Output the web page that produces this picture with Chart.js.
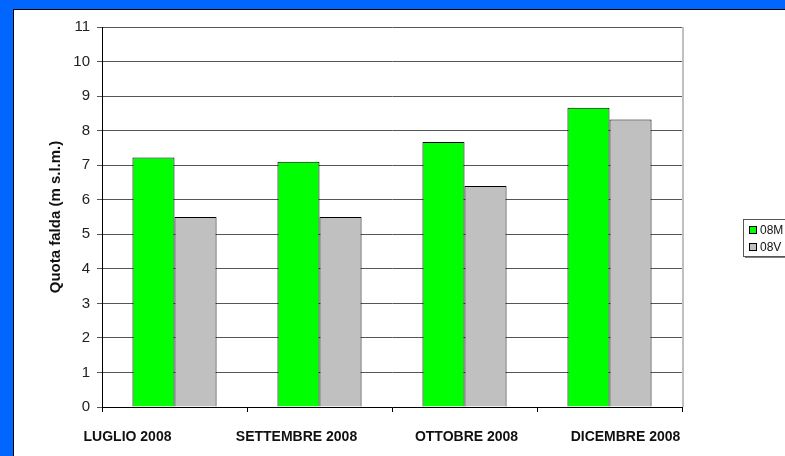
<!DOCTYPE html>
<html>
<head>
<meta charset="utf-8">
<script src="https://cdn.jsdelivr.net/npm/chart.js@4.4.0/dist/chart.umd.min.js"></script>
<style>
  html, body { margin: 0; padding: 0; background: #fff; overflow: hidden; }
  #wrap { position: relative; width: 785px; height: 456px; }
</style>
</head>
<body>
<div id="wrap"><canvas id="chart" width="785" height="456"></canvas></div>
<script>
// data
const categories = ["LUGLIO 2008", "SETTEMBRE 2008", "OTTOBRE 2008", "DICEMBRE 2008"];
const seriesNames = ["08M", "08V"];
const values08M = [7.22, 7.1, 7.67, 8.66];
const values08V = [5.5, 5.5, 6.4, 8.32];
const yMin = 0, yMax = 11, yStep = 1;

// the category labels sit a bit off-centre in the original
const labelShift = [-47, -23, 2, 16];

const FONT = "'Liberation Sans', Arial, sans-serif";

const framePlugin = {
  id: "frame",
  beforeDraw(chart) {
    const ctx = chart.ctx;
    ctx.save();
    ctx.fillStyle = "#0066ff";
    ctx.fillRect(0, 0, chart.width, chart.height);
    ctx.fillStyle = "#000";
    ctx.fillRect(13, 9, chart.width, chart.height);
    ctx.fillStyle = "#fff";
    ctx.fillRect(14, 10, chart.width, chart.height);
    ctx.restore();
  },
  afterDraw(chart) {
    const ctx = chart.ctx;
    const area = chart.chartArea;
    const xs = chart.scales.x;
    ctx.save();
    // plot area right border
    ctx.strokeStyle = "#c0c0c0";
    ctx.lineWidth = 2;
    ctx.beginPath();
    ctx.moveTo(area.right + 1, area.top);
    ctx.lineTo(area.right + 1, area.bottom);
    ctx.stroke();

    // category labels
    ctx.fillStyle = "#111";
    ctx.font = "bold 14px " + FONT;
    ctx.textAlign = "center";
    ctx.textBaseline = "middle";
    categories.forEach((c, i) => {
      ctx.fillText(c, xs.getPixelForValue(i) + labelShift[i], area.bottom + 30);
    });

    // legend box (cut by the right edge like the original)
    const lx = 743, ly = 219, lh = 37;
    ctx.fillStyle = "#808080";
    ctx.fillRect(lx + 2, ly + 2, 100, lh);
    ctx.fillStyle = "#fff";
    ctx.fillRect(lx, ly, 100, lh);
    ctx.strokeStyle = "#555";
    ctx.lineWidth = 1;
    ctx.strokeRect(lx + 0.5, ly + 0.5, 100, lh);
    ctx.font = "12px " + FONT;
    ctx.textAlign = "left";
    chart.data.datasets.forEach((ds, i) => {
      const cy = ly + 11 + i * 17;
      ctx.fillStyle = ds.backgroundColor;
      ctx.fillRect(749, cy - 4, 8, 8);
      ctx.strokeStyle = "#000";
      ctx.strokeRect(749.5, cy - 3.5, 7, 7);
      ctx.fillStyle = "#111";
      ctx.fillText(ds.label, 760, cy + 1);
    });
    ctx.restore();
  }
};

new Chart(document.getElementById("chart"), {
  type: "bar",
  data: {
    labels: categories,
    datasets: [
      {
        label: seriesNames[0],
        data: values08M,
        backgroundColor: "#00ff00",
        borderColor: "#000",
        borderWidth: 1,
      },
      {
        label: seriesNames[1],
        data: values08V,
        backgroundColor: "#c0c0c0",
        borderColor: "#000",
        borderWidth: 1,
      },
    ],
  },
  options: {
    responsive: false,
    animation: false,
    devicePixelRatio: 1,
    categoryPercentage: 0.58,
    barPercentage: 1.0,
    layout: {
      padding: { left: 14, top: 27, right: 103, bottom: 0 },
    },
    plugins: {
      legend: { display: false },
      tooltip: { enabled: false },
    },
    scales: {
      x: {
        offset: true,
        grid: {
          offset: true,
          drawOnChartArea: false,
          drawTicks: true,
          tickLength: 5,
          color: "#000",
        },
        border: { color: "#000", width: 1 },
        ticks: { display: false },
        afterFit(scale) { scale.height = 49; },
      },
      y: {
        min: yMin,
        max: yMax,
        ticks: {
          stepSize: yStep,
          padding: 7,
          color: "#222",
          font: { family: FONT, size: 15 },
        },
        grid: { color: "#555", tickLength: 5, drawTicks: true },
        border: { color: "#000", width: 1 },
        title: {
          display: true,
          text: "Quota falda (m s.l.m.)",
          color: "#111",
          font: { family: FONT, size: 15, weight: "bold" },
          padding: { top: 33, bottom: 0 },
        },
        afterFit(scale) { scale.width = 88; },
      },
    },
  },
  plugins: [framePlugin],
});
</script>
</body>
</html>
